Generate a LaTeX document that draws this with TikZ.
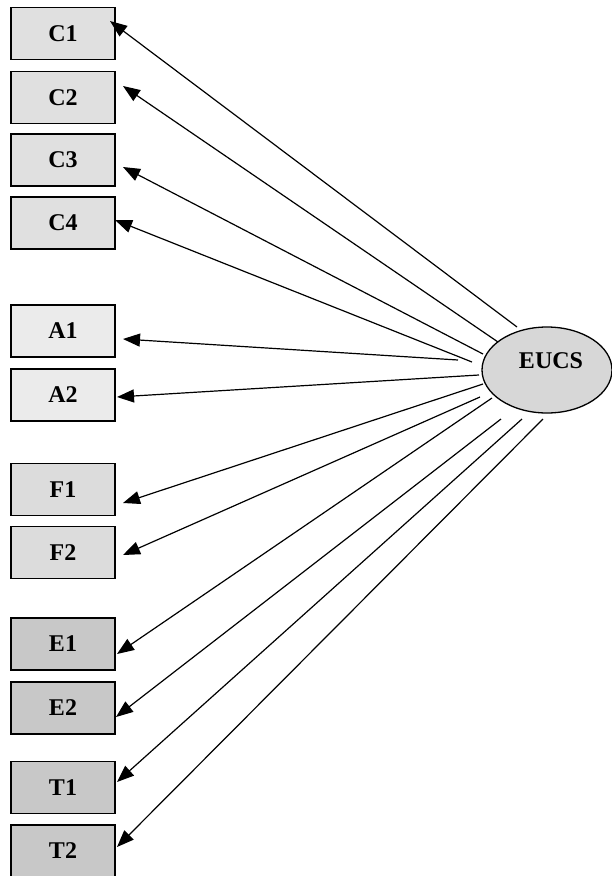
\documentclass[tikz,border=0pt]{standalone}
\usepackage{fontspec}
\setmainfont{Liberation Serif}
\usetikzlibrary{arrows.meta,shapes.geometric}
\definecolor{cgray}{HTML}{E0E0E0}
\definecolor{agray}{HTML}{EBEBEB}
\definecolor{fgray}{HTML}{DCDCDC}
\definecolor{egray}{HTML}{C8C8C8}
\definecolor{elgray}{HTML}{D7D7D7}
\tikzset{
  ind/.style={draw=black, line width=1.6pt, minimum width=104pt, minimum height=52pt, inner sep=0pt, font=\fontsize{24}{24}\selectfont\bfseries},
  conn/.style={line width=1.2pt, -{Triangle[length=17pt,width=13pt]}},
}
\begin{document}
\begin{tikzpicture}[x=1pt,y=-1pt]
\useasboundingbox (0,0) rectangle (611,876);
\node[ind, fill=cgray] (C1) at (63,33.5) {C1};
\node[ind, fill=cgray] (C2) at (63,97.5) {C2};
\node[ind, fill=cgray] (C3) at (63,160) {C3};
\node[ind, fill=cgray] (C4) at (63,223) {C4};
\node[ind, fill=agray] (A1) at (63,331) {A1};
\node[ind, fill=agray] (A2) at (63,395) {A2};
\node[ind, fill=fgray] (F1) at (63,489.5) {F1};
\node[ind, fill=fgray] (F2) at (63,552.5) {F2};
\node[ind, fill=egray] (E1) at (63,644) {E1};
\node[ind, fill=egray] (E2) at (63,708) {E2};
\node[ind, fill=egray] (T1) at (63,787.5) {T1};
\node[ind, fill=egray] (T2) at (63,851) {T2};
\node[ellipse, draw=black, line width=1.3pt, fill=elgray, minimum width=130pt, minimum height=86pt, inner sep=0pt,
  label={[shift={(4,-9)}, font=\fontsize{24}{24}\selectfont\bfseries]center:EUCS}] (EUCS) at (547,370) {};
% tails
\coordinate (sC1) at (517,327);
\coordinate (sC2) at (498,342);
\coordinate (sC3) at (483,354);
\coordinate (sC4) at (472,362);
\coordinate (sA1) at (458,360);
\coordinate (sA2) at (479,375);
\coordinate (sF1) at (483,384);
\coordinate (sF2) at (480,397);
\coordinate (sE1) at (492,398);
\coordinate (sE2) at (501,419);
\coordinate (sT1) at (522,419);
\coordinate (sT2) at (543,419);
% tips
\coordinate (hC1) at (110,21);
\coordinate (hC2) at (123,86);
\coordinate (hC3) at (123,167);
\coordinate (hC4) at (115,220);
\coordinate (hA1) at (123,339);
\coordinate (hA2) at (117,397);
\coordinate (hF1) at (123,503);
\coordinate (hF2) at (123,555);
\coordinate (hE1) at (117,654);
\coordinate (hE2) at (116,717);
\coordinate (hT1) at (117,782);
\coordinate (hT2) at (117,847);
\foreach \n in {C1,C2,C3,C4,A1,A2,F1,F2,E1,E2,T1,T2}
  \draw[conn] (s\n) -- (h\n);
\end{tikzpicture}
\end{document}
